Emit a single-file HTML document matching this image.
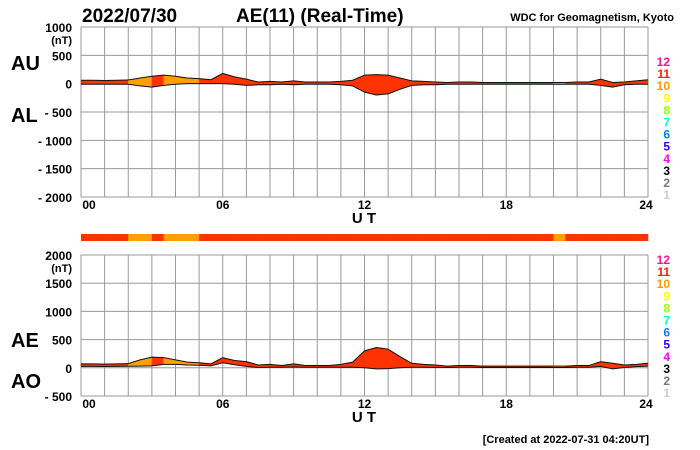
<!DOCTYPE html>
<html><head><meta charset="utf-8"><style>
body{margin:0;background:#fff;width:700px;height:450px;overflow:hidden}
svg{display:block;font-family:"Liberation Sans",Arial,sans-serif}
</style></head><body>
<svg id="c" width="700" height="450"></svg>
<script>
const hours=[0,0.5,1,1.5,2,2.5,3,3.5,4,4.5,5,5.5,6,6.5,7,7.5,8,8.5,9,9.5,10,10.5,11,11.5,12,12.5,13,13.5,14,14.5,15,15.5,16,16.5,17,17.5,18,18.5,19,19.5,20,20.5,21,21.5,22,22.5,23,23.5,24];
const auValues=[60,60,55,60,65,100,130,150,130,100,90,70,180,120,80,30,40,30,50,30,30,30,40,60,150,160,150,100,50,40,30,20,30,30,20,20,20,20,20,20,20,20,30,30,80,20,30,50,70];
const alValues=[-10,-10,-10,-10,-10,-40,-60,-30,-10,0,0,0,0,-10,-30,-20,-20,-10,-20,-10,-10,-10,-20,-40,-150,-200,-180,-100,-30,-20,-20,-10,-10,-10,-10,-10,-10,-10,-10,-10,-10,-10,-10,-10,-30,-60,-20,-10,-10];
const stationCounts=[11,11,11,11,10,10,11,10,10,10,11,11,11,11,11,11,11,11,11,11,11,11,11,11,11,11,11,11,11,11,11,11,11,11,11,11,11,11,11,11,10,11,11,11,11,11,11,11];
const topTicks=[1000,500,0,-500,-1000,-1500,-2000];
const botTicks=[2000,1500,1000,500,0,-500];
const xTicks=[0,6,12,18,24];
const legendNums=[12,11,10,9,8,7,6,5,4,3,2,1];
const legendCols=['#ff1493','#ff2000','#ff9900','#ffff00','#99ff00','#00ffcc','#0080ff','#3300ff','#ff00ff','#000','#777','#ccc'];
const countColor={10:'#ffa000',11:'#ff3300',12:'#ff1493'};

const svg=document.getElementById('c');const NS='http://www.w3.org/2000/svg';
function el(t,a,p){const e=document.createElementNS(NS,t);for(const k in a)e.setAttribute(k,a[k]);(p||svg).appendChild(e);return e;}
const X0=81,X1=648;const xs=h=>X0+(X1-X0)*h/24;
function panel(name,yTop,yBot,vMax,vMin,upper,lower,legY){
  const ys=v=>yTop+(vMax-v)/(vMax-vMin)*(yBot-yTop);
  const g=el('g',{});
  for(let h=0;h<=24;h++){el('line',{x1:xs(h),x2:xs(h),y1:yTop,y2:yBot,stroke:'#999','stroke-width':1},g);}
  for(let v=vMax;v>=vMin;v-=500){el('line',{x1:X0,x2:X1,y1:ys(v),y2:ys(v),stroke:'#999','stroke-width':1},g);}
  for(let i=0;i<hours.length-1;i++){
    const p=`${xs(hours[i])},${ys(upper[i])} ${xs(hours[i+1])},${ys(upper[i+1])} ${xs(hours[i+1])},${ys(lower[i+1])} ${xs(hours[i])},${ys(lower[i])}`;
    const poly=el('polygon',{points:p,fill:countColor[stationCounts[i]],stroke:countColor[stationCounts[i]],'stroke-width':0.5},g);
    
    
  }
  const lu=hours.map((h,i)=>xs(h)+','+ys(upper[i])).join(' ');
  const ll=hours.map((h,i)=>xs(h)+','+ys(lower[i])).join(' ');
  el('polyline',{points:lu,fill:'none',stroke:'#111','stroke-width':1},g);
  el('polyline',{points:ll,fill:'none',stroke:'#111','stroke-width':1},g);
  const tk=name==='au-al-panel'?topTicks:botTicks;
  tk.forEach(v=>{const t=el('text',{x:72,y:ys(v)+5,'text-anchor':'end','font-size':12,'font-weight':'bold'},g);t.textContent=v<0?'- '+(-v):v;});
  const nt=el('text',{x:72,y:yTop+17,'text-anchor':'end','font-size':11,'font-weight':'bold'},g);nt.textContent='(nT)';
  xTicks.forEach(h=>{const t=el('text',{x:xs(h)+(h===0?8:(h===24?-2:0)),y:yBot+12,'text-anchor':'middle','font-size':12,'font-weight':'bold'},g);t.textContent=String(h).padStart(2,'0');});
  const ut=el('text',{x:364,y:yBot+26,'text-anchor':'middle','font-size':15,'font-weight':'bold'},g);ut.textContent='U T';
  legendNums.forEach((n,i)=>{const t=el('text',{x:670,y:legY+i*12.1,'text-anchor':'end','font-size':12,'font-weight':'bold',fill:legendCols[i]},g);t.textContent=n;});
  return ys;
}
panel('au-al-panel',27,197,1000,-2000,auValues,alValues,66);
const aeValues=auValues.map((u,i)=>u-alValues[i]);
const aoValues=auValues.map((u,i)=>(u+alValues[i])/2);
panel('ae-ao-panel',255,396,2000,-500,aeValues,aoValues,264);
for(let i=0;i<stationCounts.length;i++){
  const r=el('rect',{x:xs(hours[i]),y:234,width:xs(hours[i+1])-xs(hours[i])+0.3,height:7,fill:countColor[stationCounts[i]]});
  
  
}
function txt(s,a,name){const t=el('text',a);t.textContent=s;}
txt('2022/07/30',{x:82,y:22,'font-size':19,'font-weight':'bold'},'date-title');
txt('AE(11) (Real-Time)',{x:236,y:22,'font-size':19,'font-weight':'bold'},'chart-title');
txt('WDC for Geomagnetism, Kyoto',{x:674,y:21,'text-anchor':'end','font-size':11,'font-weight':'bold'},'source-label');
txt('AU',{x:11,y:70,'font-size':20,'font-weight':'bold'},'au-label');
txt('AL',{x:11,y:122,'font-size':20,'font-weight':'bold'},'al-label');
txt('AE',{x:11,y:347,'font-size':20,'font-weight':'bold'},'ae-label');
txt('AO',{x:11,y:388,'font-size':20,'font-weight':'bold'},'ao-label');
txt('[Created at 2022-07-31 04:20UT]',{x:649,y:443,'text-anchor':'end','font-size':11,'font-weight':'bold'},'created-note');
</script>
</body></html>
